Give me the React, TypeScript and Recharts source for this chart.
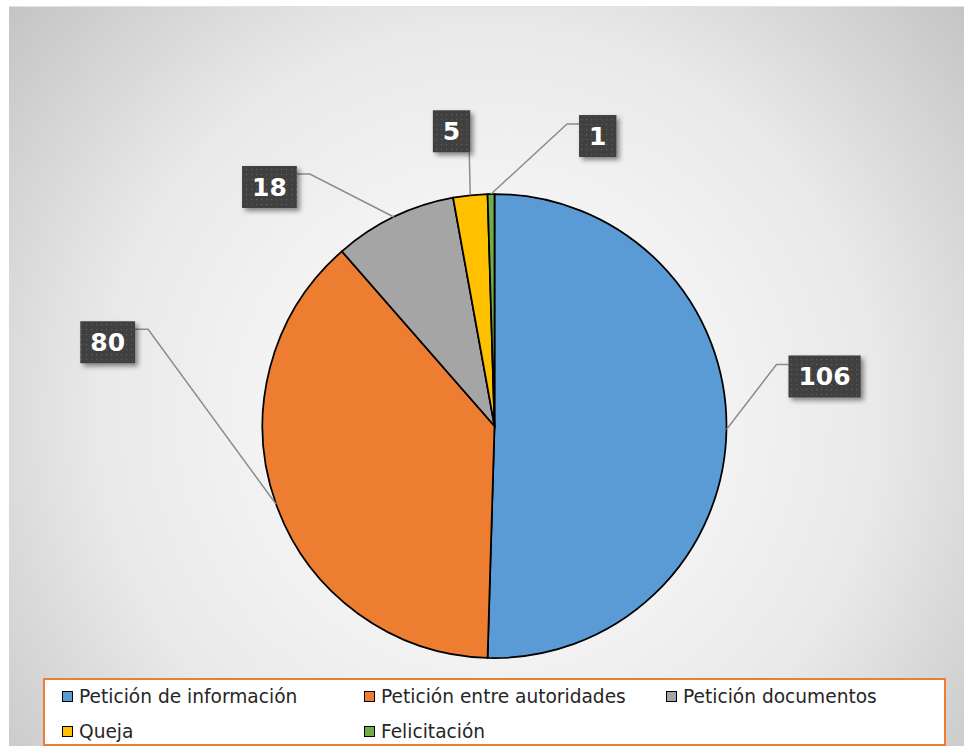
import { PieChart, Pie, Cell, Legend } from "recharts";

const CATEGORIES = [
  "Petición de información",
  "Petición entre autoridades",
  "Petición documentos",
  "Queja",
  "Felicitación",
];
const VALUES = [106, 80, 18, 5, 1];
const COLORS = ["#5B9BD5", "#ED7D31", "#A5A5A5", "#FFC000", "#70AD47"];

// where each data label sits, relative to the point where its leader line leaves the slice
const LABEL_OFFSETS = [
  { dx: 50, dy: -65, side: "right" },
  { dx: -128, dy: -175, side: "left" },
  { dx: -84, dy: -43, side: "left" },
  { dx: -1, dy: -43, side: "up" },
  { dx: 76, dy: -70, side: "right" },
];

const data = CATEGORIES.map((name, i) => ({ name, value: VALUES[i] }));

const RAD = Math.PI / 180;
const FONT = "'DejaVu Sans', Verdana, sans-serif";

// eslint-disable-next-line @typescript-eslint/no-explicit-any
function renderLabel(props: any) {
  const { cx, cy, midAngle, outerRadius, index, value } = props;
  const ex = cx + outerRadius * Math.cos(-midAngle * RAD);
  const ey = cy + outerRadius * Math.sin(-midAngle * RAD);
  const o = LABEL_OFFSETS[index];
  const kx = ex + o.dx;
  const ky = ey + o.dy;
  const text = String(value);
  const w = text.length * 17.4 + 20;
  const h = 42;

  let bx = 0;
  let by = 0;
  let pts = "";
  if (o.side === "right") {
    bx = kx + 12;
    by = ky - 9;
    pts = `${ex},${ey} ${kx},${ky} ${bx},${ky}`;
  } else if (o.side === "left") {
    bx = kx - 13 - w;
    by = ky - 8;
    pts = `${ex},${ey} ${kx},${ky} ${kx - 13},${ky}`;
  } else {
    bx = kx - w + 1;
    by = ky - h;
    pts = `${ex},${ey} ${kx},${ky}`;
  }

  return (
    <g key={`lbl-${index}`}>
      {index === 0 && (
        <defs>
          <pattern id="dots" width="5" height="5" patternUnits="userSpaceOnUse">
            <rect width="5" height="5" fill="#404040" />
            <rect x="2" y="2" width="1.2" height="1.2" fill="#5e5e5e" />
          </pattern>
          <filter id="shadow" x="-20%" y="-20%" width="150%" height="160%">
            <feDropShadow dx="3" dy="3" stdDeviation="2.5" floodColor="#000" floodOpacity="0.45" />
          </filter>
        </defs>
      )}
      <polyline points={pts} fill="none" stroke="#8c8c8c" strokeWidth={1.5} />
      <rect x={bx} y={by} width={w} height={h} fill="url(#dots)" filter="url(#shadow)" />
      <text
        x={bx + w / 2}
        y={by + h / 2 + 9}
        textAnchor="middle"
        fill="#fff"
        fontFamily={FONT}
        fontWeight="bold"
        fontSize={25}
      >
        {text}
      </text>
    </g>
  );
}

function renderLegend() {
  return (
    <div
      style={{
        position: "relative",
        width: 903,
        height: 68,
        boxSizing: "border-box",
        border: "2.5px solid #ED7D31",
        background: "#fff",
        fontFamily: FONT,
        fontSize: 18.6,
        color: "#262626",
      }}
    >
      {CATEGORIES.map((name, i) => (
        <div
          key={name}
          style={{
            position: "absolute",
            left: 17 + (i % 3) * 302,
            top: 3 + Math.floor(i / 3) * 35,
            height: 26,
            display: "flex",
            alignItems: "center",
            whiteSpace: "nowrap",
          }}
        >
          <span
            style={{
              width: 11,
              height: 11,
              boxSizing: "border-box",
              border: "1.5px solid #000",
              background: COLORS[i],
              marginRight: 6,
              display: "inline-block",
            }}
          />
          {name}
        </div>
      ))}
    </div>
  );
}

export default function App() {
  return (
    <div
      style={{
        position: "absolute",
        left: 0,
        top: 0,
        width: 964,
        height: 746,
        overflow: "hidden",
        background: "#fff",
      }}
    >
      <div
        style={{
          position: "absolute",
          left: 9,
          top: 6,
          width: 960,
          height: 745,
          borderTop: "1px solid #e2e2e2",
          background:
            "radial-gradient(circle at 50% 55%, #ffffff 0%, #f5f5f5 30%, #e9e9e9 62%, #c4c4c4 100%)",
        }}
      >
        <PieChart width={955} height={740} margin={{ top: 0, right: 0, bottom: 0, left: 0 }}>
          <Pie
            data={data}
            dataKey="value"
            nameKey="name"
            cx={485.5}
            cy={419}
            outerRadius={232}
            startAngle={90}
            endAngle={-270}
            stroke="#000"
            strokeWidth={1.75}
            label={renderLabel}
            labelLine={false}
            isAnimationActive={false}
          >
            {data.map((d, i) => (
              <Cell key={d.name} fill={COLORS[i]} />
            ))}
          </Pie>
          <Legend
            content={renderLegend}
            wrapperStyle={{ position: "absolute", left: 34, top: 671, width: 903, height: 68 }}
          />
        </PieChart>
      </div>
    </div>
  );
}
